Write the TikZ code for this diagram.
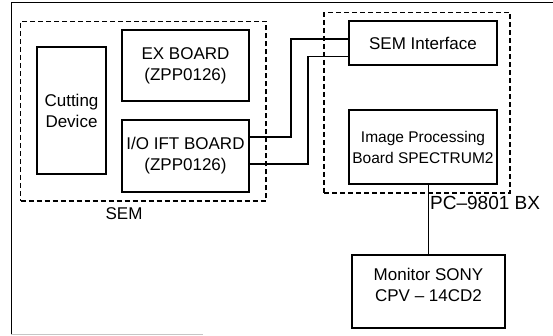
\documentclass[tikz,border=0pt]{standalone}
\usepackage{fontspec}
\setmainfont{Liberation Sans}
\usepackage{xcolor}
\usepackage{tikz}
\usetikzlibrary{calc,positioning}

\begin{document}
\begin{tikzpicture}[
  x=1pt, y=-1pt,
  unit/.style={draw, line width=1.2pt, inner sep=0pt, outer sep=0pt, align=center, font=\fontsize{17}{21}\selectfont},
  group/.style={draw, line width=1.2pt, dash pattern=on 5pt off 3pt, inner sep=0pt, outer sep=0pt},
  wire/.style={line width=1.2pt},
  caption/.style={inner sep=0pt, font=\fontsize{#1}{#1}\selectfont}
]
  \useasboundingbox (0,0) rectangle (553,336);
  % outer frame of the scan
  \draw[line width=1pt] (553,3) -- (11,3) -- (11,334);
  \draw[line width=1pt, gray!45] (11,334) -- (203,334);

  % SEM side
  \node[group, minimum width=245.5pt, minimum height=179.5pt] (semgrp) at (143.25,111.25) {};
  \node[unit, minimum width=69pt, minimum height=127pt] (cut) at (71.5,110.5) {Cutting\\Device};
  \node[unit, minimum width=127pt, minimum height=71pt] (exb) at (185.5,65.5) {EX BOARD\\(ZPP0126)};
  \node[unit, minimum width=127pt, minimum height=72pt] (iob) at (185.5,156) {I/O IFT BOARD\\(ZPP0126)};
  \node[caption=17] (semlbl) at (124,214) {SEM};

  % PC side
  \node[group, minimum width=186pt, minimum height=180.5pt] (pcgrp) at (417,102.75) {};
  \node[unit, minimum width=148pt, minimum height=44pt] (semif) at (423,43) {SEM Interface};
  \node[unit, minimum width=148pt, minimum height=74pt, font=\fontsize{15.5}{21}\selectfont] (imgp) at (423,147) {Image Processing\\Board SPECTRUM2};
  \node[caption=19, anchor=west] (pclbl) at (430,203) {PC--9801 BX};
  \node[unit, minimum width=153pt, minimum height=73pt, text height=20pt] (mon) at (428.5,291.5) {Monitor SONY\\CPV -- 14CD2};

  % cables
  \draw[wire] ([yshift=19pt]iob.east) -- ++(42,0) |- ([yshift=4pt]semif.west);
  \draw[wire] ([yshift=-8pt]iob.east) -- ++(59,0) |- ([yshift=-13.5pt]semif.west);
  \draw[wire] (imgp.south -| mon.north) -- (mon.north);
\end{tikzpicture}
\end{document}
